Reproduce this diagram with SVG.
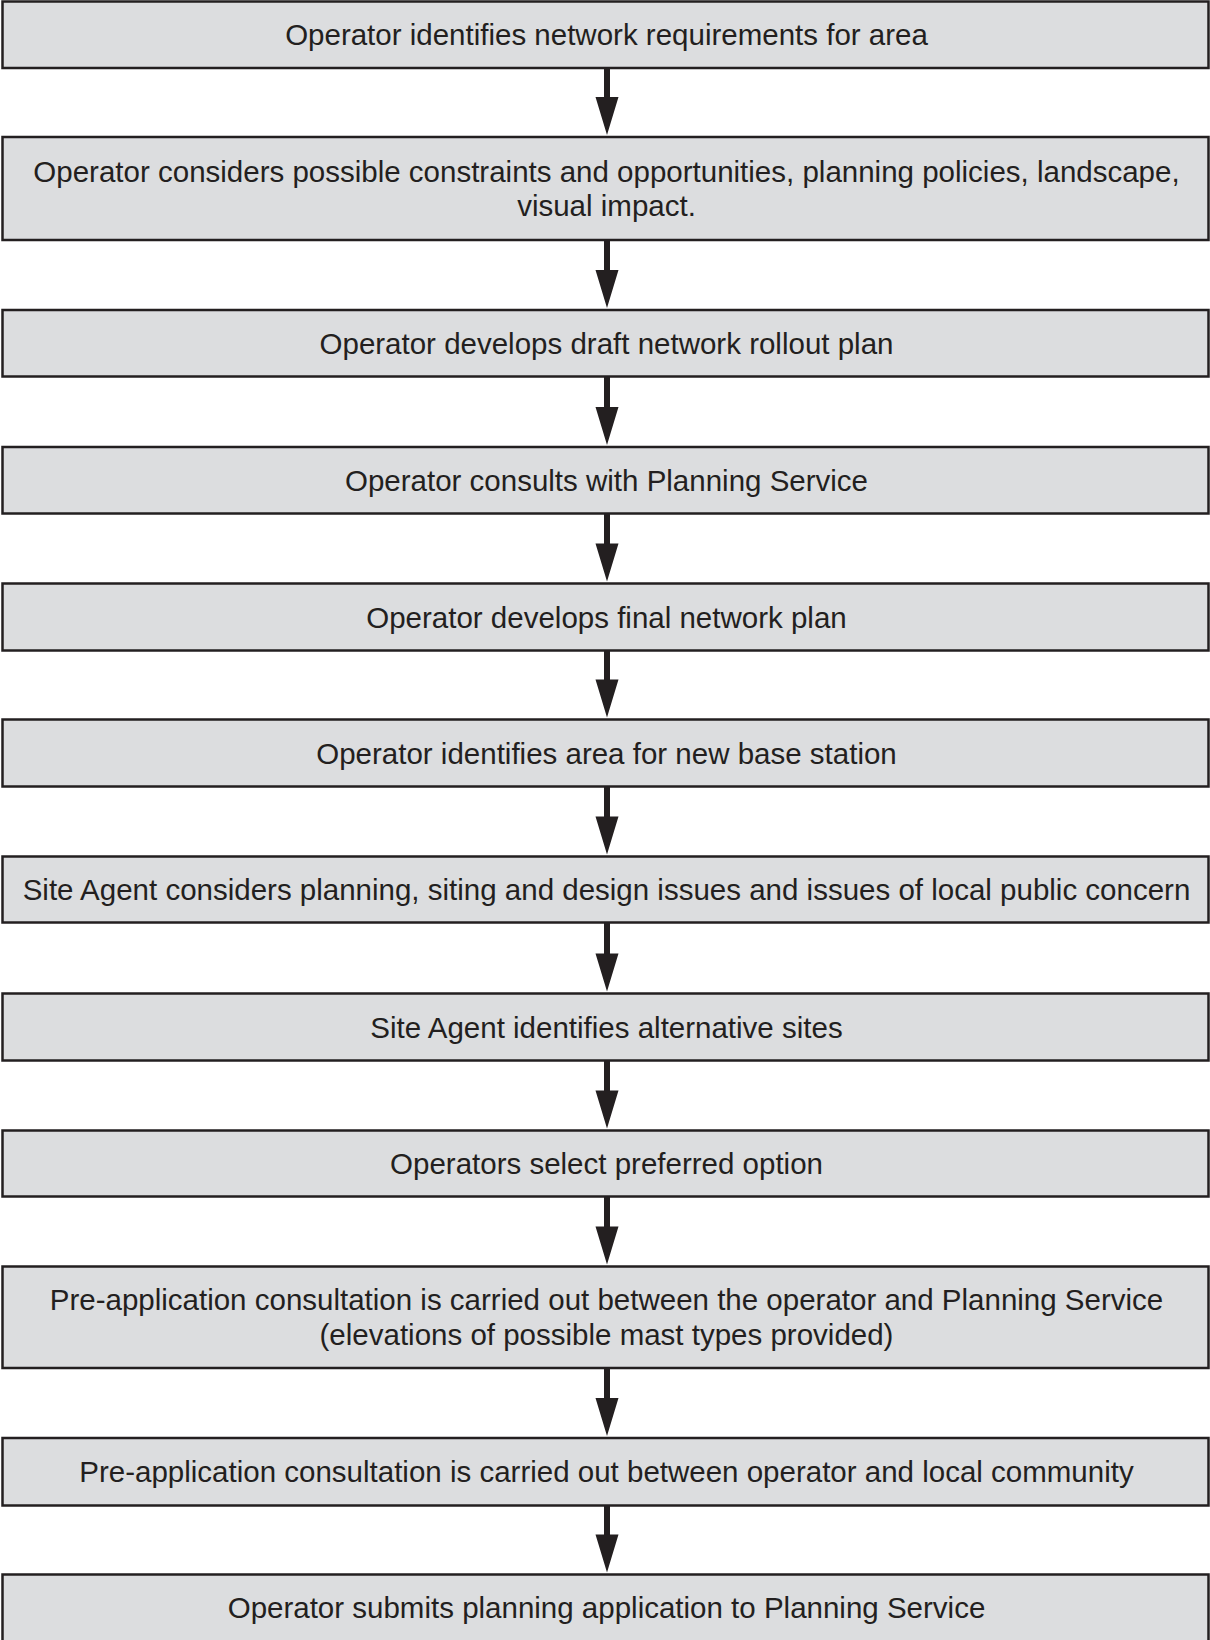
<svg xmlns="http://www.w3.org/2000/svg" width="1210" height="1640" viewBox="0 0 1210 1640">
<style>
.box{fill:#dcdddf;stroke:#231f20;stroke-width:2.5}
.t{font-family:"Liberation Sans",Arial,sans-serif;font-size:29.5px;fill:#231f20;text-anchor:middle}
.sh{stroke:#231f20;stroke-width:6;fill:none}
.hd{fill:#231f20}
</style>
<rect width="1210" height="1640" fill="#ffffff"/>
<g id="n1"><rect class="box" x="2.5" y="1.5" width="1206" height="66.5"/><text class="t" x="606.5" y="45.3">Operator identifies network requirements for area</text></g>
<g id="n2"><rect class="box" x="2.5" y="137" width="1206" height="103"/><text class="t" x="606.5" y="181.7">Operator considers possible constraints and opportunities, planning policies, landscape,</text><text class="t" x="606.5" y="216.2">visual impact.</text></g>
<g id="n3"><rect class="box" x="2.5" y="310" width="1206" height="66.5"/><text class="t" x="606.5" y="353.8">Operator develops draft network rollout plan</text></g>
<g id="n4"><rect class="box" x="2.5" y="447" width="1206" height="66.5"/><text class="t" x="606.5" y="490.8">Operator consults with Planning Service</text></g>
<g id="n5"><rect class="box" x="2.5" y="583.5" width="1206" height="67"/><text class="t" x="606.5" y="627.5">Operator develops final network plan</text></g>
<g id="n6"><rect class="box" x="2.5" y="719.5" width="1206" height="67"/><text class="t" x="606.5" y="763.5">Operator identifies area for new base station</text></g>
<g id="n7"><rect class="box" x="2.5" y="856.5" width="1206" height="66"/><text class="t" x="606.5" y="900">Site Agent considers planning, siting and design issues and issues of local public concern</text></g>
<g id="n8"><rect class="box" x="2.5" y="993.5" width="1206" height="67"/><text class="t" x="606.5" y="1037.5">Site Agent identifies alternative sites</text></g>
<g id="n9"><rect class="box" x="2.5" y="1130.5" width="1206" height="66"/><text class="t" x="606.5" y="1174">Operators select preferred option</text></g>
<g id="n10"><rect class="box" x="2.5" y="1266.5" width="1206" height="101.5"/><text class="t" x="606.5" y="1310">Pre-application consultation is carried out between the operator and Planning Service</text><text class="t" x="606.5" y="1345">(elevations of possible mast types provided)</text></g>
<g id="n11"><rect class="box" x="2.5" y="1438" width="1206" height="67.5"/><text class="t" x="606.5" y="1482.3">Pre-application consultation is carried out between operator and local community</text></g>
<g id="n12"><rect class="box" x="2.5" y="1574.5" width="1206" height="72"/><text class="t" x="606.5" y="1618.3">Operator submits planning application to Planning Service</text></g>
<g id="connectors">
<path class="sh" d="M607 68V98M607 240V271M607 376.5V408M607 513.5V544.5M607 650.5V680.5M607 786.5V817.5M607 922.5V954.5M607 1060.5V1091.5M607 1196.5V1227.5M607 1368V1399M607 1505.5V1535.5"/>
<path class="hd" d="M595.5 97H618.5L607 135ZM595.5 270H618.5L607 308ZM595.5 407H618.5L607 445ZM595.5 543.5H618.5L607 581.5ZM595.5 679.5H618.5L607 717.5ZM595.5 816.5H618.5L607 854.5ZM595.5 953.5H618.5L607 991.5ZM595.5 1090.5H618.5L607 1128.5ZM595.5 1226.5H618.5L607 1264.5ZM595.5 1398H618.5L607 1436ZM595.5 1534.5H618.5L607 1572.5Z"/>
</g>
</svg>
